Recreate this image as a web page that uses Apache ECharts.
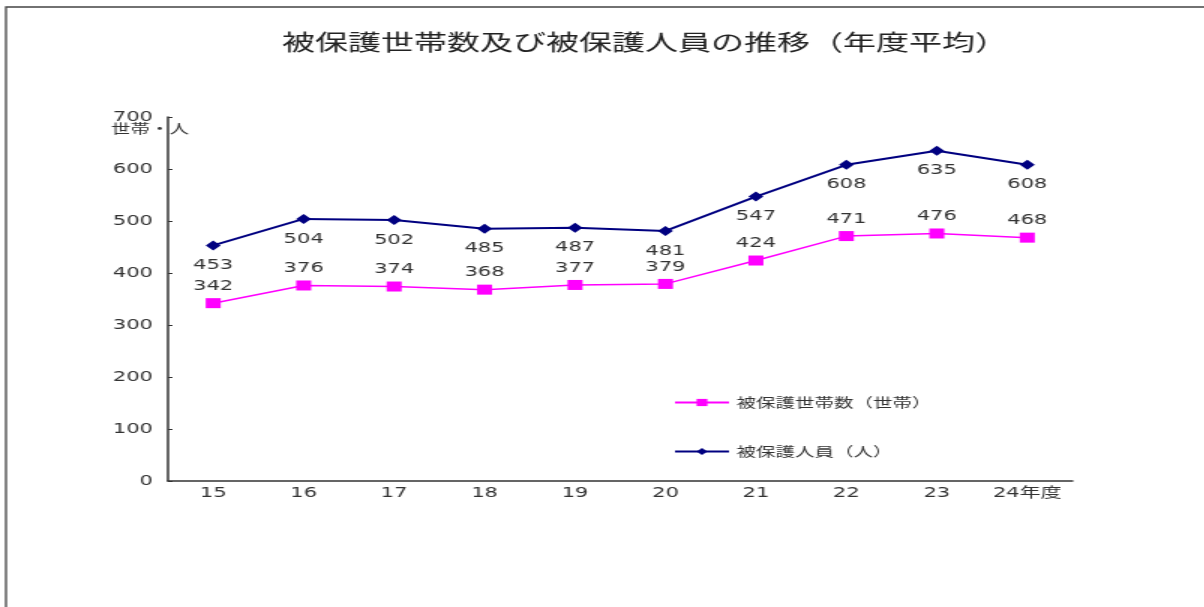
<!DOCTYPE html>
<html>
<head>
<meta charset="utf-8">
<script src="https://cdn.jsdelivr.net/npm/echarts@6/dist/echarts.min.js"></script>
<style>
  html, body { margin: 0; padding: 0; background: #fff; overflow: hidden; }
  /* the chart is laid out narrow and widened 1.5x, giving the wide glyphs and markers */
  #chart { width: 803px; height: 607px; transform: scaleX(1.5); transform-origin: 0 0; }
</style>
</head>
<body>
<div id="chart"></div>
<script>
// 年度 (fiscal years)
const years = ['15', '16', '17', '18', '19', '20', '21', '22', '23', '24年度'];
// 被保護世帯数（世帯）
const households = [342, 376, 374, 368, 377, 379, 424, 471, 476, 468];
// 被保護人員（人）
const persons = [453, 504, 502, 485, 487, 481, 547, 608, 635, 608];

const textColor = '#333';
const numFont = '"DejaVu Sans", "Noto Sans CJK JP", sans-serif';
const jpFont = '"Noto Sans CJK JP", sans-serif';

const chart = echarts.init(document.getElementById('chart'));
chart.setOption({
  animation: false,
  backgroundColor: '#fff',
  title: {
    text: '被保護世帯数及び被保護人員の推移（年度平均）',
    left: 188,
    top: 31,
    padding: 0,
    textStyle: { fontFamily: jpFont, fontSize: 22, fontWeight: 'normal', color: '#222' }
  },
  graphic: [{
    type: 'rect',
    silent: true,
    shape: { x: 4, y: 7, width: 1000, height: 800 },
    style: { fill: 'none', stroke: '#444', lineWidth: 1.3 }
  }],
  legend: {
    orient: 'vertical',
    left: 449,
    top: 396,
    padding: 0,
    itemWidth: 36,
    itemHeight: 9,
    itemGap: 36,
    textStyle: { fontFamily: jpFont, fontSize: 13, color: textColor },
    data: ['被保護世帯数（世帯）', '被保護人員（人）']
  },
  grid: { left: 112, right: 88, top: 117, bottom: 126, containLabel: false },
  xAxis: {
    type: 'category',
    data: years,
    boundaryGap: true,
    axisLine: { lineStyle: { color: '#333', width: 1.5 } },
    axisTick: { inside: true, length: 4, lineStyle: { color: '#333', width: 1.2 } },
    axisLabel: { margin: 5, fontFamily: numFont, fontSize: 14, color: textColor },
    splitLine: { show: false }
  },
  yAxis: {
    type: 'value',
    min: 0,
    max: 700,
    interval: 100,
    name: '世帯・人',
    nameLocation: 'end',
    nameGap: -11,
    nameMoveOverlap: false,
    nameTextStyle: {
      fontFamily: jpFont, fontSize: 13, color: textColor,
      align: 'center', verticalAlign: 'middle', padding: [0, 24, 0, 0]
    },
    axisLine: { show: true, lineStyle: { color: '#333', width: 1.5 } },
    axisTick: { show: true, inside: true, length: 3, lineStyle: { color: '#333', width: 1 } },
    axisLabel: { margin: 10, fontFamily: numFont, fontSize: 14, color: textColor },
    splitLine: { show: false }
  },
  series: [
    {
      name: '被保護世帯数（世帯）',
      type: 'line',
      data: households,
      symbol: 'rect',
      symbolSize: 10,
      color: '#ff00ff',
      lineStyle: { color: '#ff00ff', width: 1.5 },
      itemStyle: { color: '#ff00ff' },
      label: { show: true, position: 'top', distance: 5, fontFamily: numFont, fontSize: 14, color: textColor },
      z: 3
    },
    {
      name: '被保護人員（人）',
      type: 'line',
      data: persons,
      symbol: 'diamond',
      symbolSize: 10,
      color: '#000080',
      lineStyle: { color: '#000080', width: 2 },
      itemStyle: { color: '#000080' },
      label: { show: true, position: 'bottom', distance: 8, fontFamily: numFont, fontSize: 14, color: textColor },
      z: 3
    }
  ]
});
</script>
</body>
</html>
